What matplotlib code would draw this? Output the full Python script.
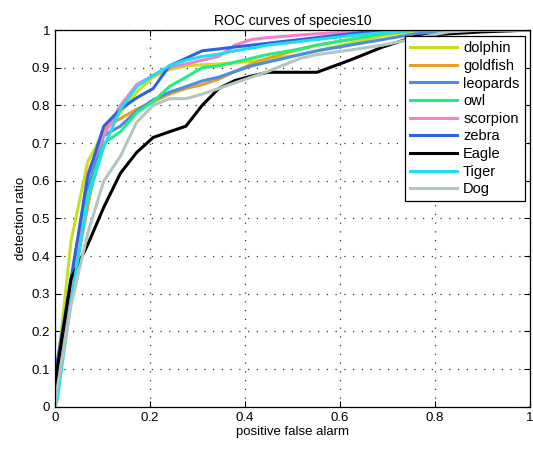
import numpy as np
import matplotlib
matplotlib.use('Agg')
import matplotlib.pyplot as plt
from matplotlib.ticker import FormatStrFormatter

# false alarm grid shared by all curves
fpr = [0, 0.005, 0.034, 0.069, 0.103, 0.138, 0.172, 0.207, 0.241, 0.276, 0.31,
       0.345, 0.379, 0.414, 0.448, 0.517, 0.552, 0.621, 0.69, 0.759, 0.828, 0.897, 1.0]

dolphin = [0, 0.10, 0.44, 0.65, 0.73, 0.78, 0.835, 0.875, 0.895, 0.905, 0.908,
           0.91, 0.913, 0.917, 0.922, 0.935, 0.945, 0.965, 0.985, 0.997, 1.0, 1.0, 1.0]
goldfish = [0, 0.05, 0.30, 0.53, 0.74, 0.765, 0.79, 0.81, 0.83, 0.845, 0.855,
            0.87, 0.89, 0.91, 0.925, 0.95, 0.96, 0.975, 0.99, 1.0, 1.0, 1.0, 1.0]
leopards = [0, 0.10, 0.33, 0.58, 0.72, 0.745, 0.785, 0.815, 0.835, 0.85, 0.865,
            0.875, 0.89, 0.905, 0.915, 0.935, 0.945, 0.96, 0.975, 0.99, 1.0, 1.0, 1.0]
owl = [0, 0.05, 0.30, 0.56, 0.70, 0.73, 0.78, 0.81, 0.85, 0.875, 0.90,
       0.905, 0.915, 0.925, 0.935, 0.95, 0.96, 0.975, 0.99, 1.0, 1.0, 1.0, 1.0]
scorpion = [0, 0.05, 0.30, 0.62, 0.72, 0.80, 0.855, 0.88, 0.90, 0.91, 0.92,
            0.93, 0.96, 0.975, 0.98, 0.987, 0.99, 0.995, 1.0, 1.0, 1.0, 1.0, 1.0]
zebra = [0, 0.12, 0.34, 0.61, 0.745, 0.79, 0.82, 0.845, 0.905, 0.925, 0.945,
         0.95, 0.955, 0.96, 0.965, 0.975, 0.98, 0.99, 1.0, 1.0, 1.0, 1.0, 1.0]
eagle = [0.02, 0.10, 0.34, 0.43, 0.53, 0.62, 0.675, 0.715, 0.73, 0.745, 0.80,
         0.845, 0.866, 0.878, 0.888, 0.888, 0.888, 0.92, 0.955, 0.983, 0.99, 0.995, 1.0]
tiger = [0, 0.02, 0.28, 0.55, 0.69, 0.79, 0.85, 0.88, 0.905, 0.92, 0.93,
         0.936, 0.945, 0.952, 0.96, 0.97, 0.975, 0.985, 0.993, 1.0, 1.0, 1.0, 1.0]
dog = [0, 0.05, 0.27, 0.46, 0.60, 0.665, 0.755, 0.80, 0.818, 0.818, 0.83,
       0.845, 0.86, 0.875, 0.89, 0.925, 0.935, 0.947, 0.96, 0.978, 0.995, 1.0, 1.0]

names = ['dolphin', 'goldfish', 'leopards', 'owl', 'scorpion', 'zebra', 'Eagle', 'Tiger', 'Dog']
series = [dolphin, goldfish, leopards, owl, scorpion, zebra, eagle, tiger, dog]
colors = ['#cade1e', '#e8a024', '#4c8ce8', '#22ee80', '#f282c8', '#2c62e0', '#000000', '#22dcf0', '#b2c6be']

plt.rcParams['font.family'] = ['Liberation Sans', 'DejaVu Sans']
fig = plt.figure(figsize=(5.33, 4.49), dpi=100)
ax = fig.add_axes([0.103, 0.094, 0.891, 0.839])

for name, vals, c in zip(names, series, colors):
    ax.plot(fpr, vals, color=c, linewidth=2.2, label=name)

ax.set_xlim(0, 1)
ax.set_ylim(0, 1)
ax.set_xticks(np.arange(0, 1.01, 0.2))
ax.set_yticks(np.arange(0, 1.01, 0.1))
ax.xaxis.set_major_formatter(FormatStrFormatter('%g'))
ax.yaxis.set_major_formatter(FormatStrFormatter('%g'))
ax.tick_params(direction='in', top=True, right=True, labelsize=9.5, length=4)
ax.grid(True, linestyle=(0, (1, 6)), color='#333333', linewidth=0.9)
for s in ax.spines.values():
    s.set_linewidth(0.9)

ax.set_title('ROC curves of species10', fontsize=10, pad=4)
ax.set_xlabel('positive false alarm', fontsize=9.5, labelpad=2)
ax.set_ylabel('detection ratio', fontsize=9.5, labelpad=3)

leg = ax.legend(loc='upper right', fontsize=10.5, handlelength=3.2, handletextpad=0.45,
                labelspacing=0.25, borderpad=0.35, borderaxespad=0, fancybox=False,
                framealpha=1, edgecolor='black', bbox_to_anchor=(0.989, 0.984))
leg.get_frame().set_linewidth(0.9)

plt.savefig('out.png', dpi=100)
